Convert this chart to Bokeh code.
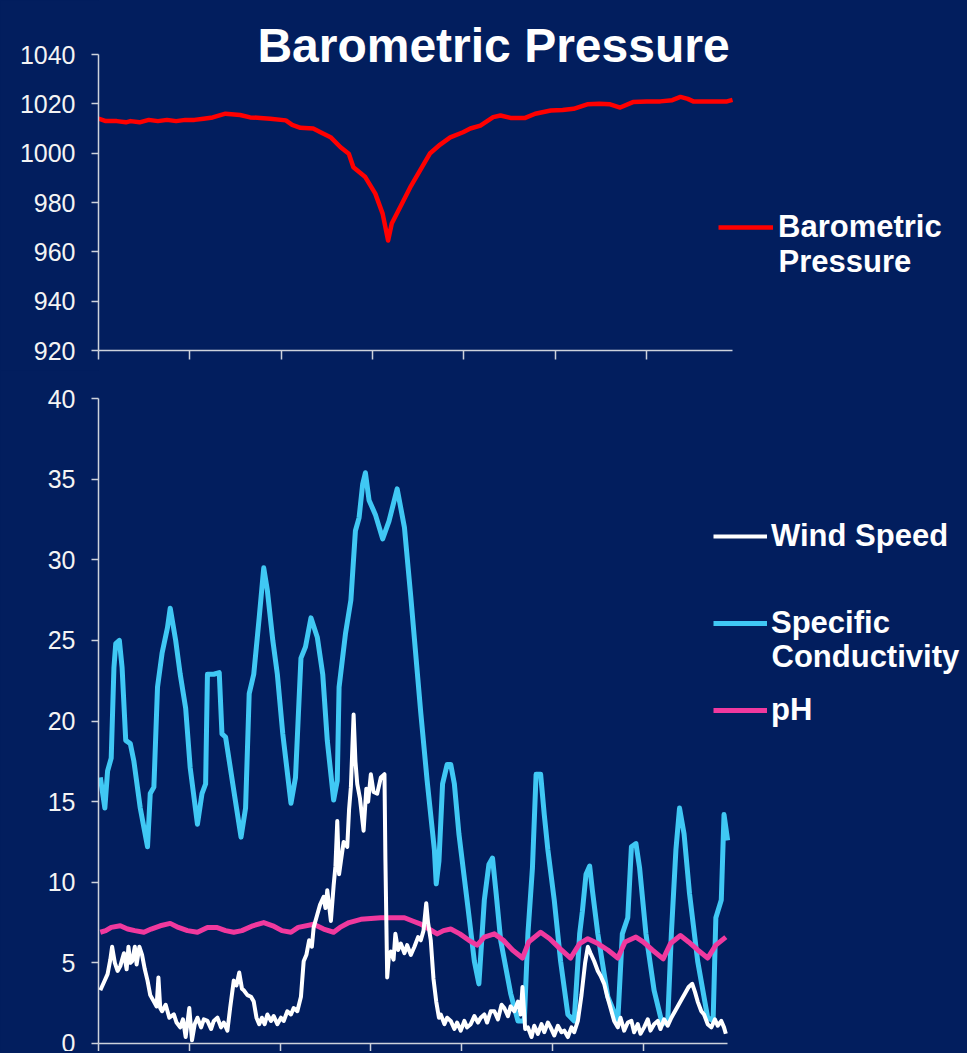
from bokeh.plotting import figure
from bokeh.models import Legend, LegendItem, Label, FixedTicker, Range1d
from bokeh.layouts import column
from bokeh.embed import file_html
from bokeh.resources import INLINE

# ---------------- data (time in days) ----------------
day_ticks = [0, 1, 2, 3, 4, 5, 6]
pressure_ticks = [920, 940, 960, 980, 1000, 1020, 1040]
lower_ticks = [0, 5, 10, 15, 20, 25, 30, 35, 40]

pressure_t = [0.00, 0.08, 0.20, 0.30, 0.35, 0.45, 0.55, 0.65, 0.75, 0.85, 0.95, 1.05, 1.15,
              1.25, 1.39, 1.55, 1.66, 1.77, 1.88, 2.05, 2.12, 2.21, 2.35, 2.43, 2.54, 2.65,
              2.74, 2.79, 2.92, 3.03, 3.11, 3.17, 3.21, 3.30, 3.41, 3.52, 3.63, 3.74, 3.85,
              3.99, 4.07, 4.18, 4.32, 4.40, 4.51, 4.67, 4.78, 4.95, 5.08, 5.20, 5.35, 5.48,
              5.60, 5.71, 5.85, 6.00, 6.15, 6.28, 6.37, 6.45, 6.51, 6.65, 6.78, 6.88, 6.94]
pressure_v = [1014, 1013, 1013, 1012.5, 1013, 1012.5, 1013.5, 1013, 1013.5, 1013, 1013.5,
              1013.5, 1014, 1014.5, 1016, 1015.5, 1014.5, 1014.3, 1014, 1013.3, 1011.5,
              1010.3, 1010, 1008.5, 1006.5, 1002.4, 999.8, 994.3, 990.3, 983.6, 975.5, 964.6,
              971.5, 978, 986, 993, 1000, 1003.5, 1006.4, 1008.5, 1010, 1011.2, 1014.6,
              1015.3, 1014.3, 1014.3, 1016, 1017.3, 1017.5, 1018, 1019.8, 1020, 1019.8, 1018.5,
              1020.7, 1021, 1021, 1021.5, 1022.8, 1022, 1021, 1021, 1021, 1021, 1021.6]

cond_t = [0.02, 0.07, 0.10, 0.14, 0.17, 0.19, 0.23, 0.26, 0.30, 0.35, 0.39, 0.46, 0.54, 0.57,
          0.61, 0.65, 0.70, 0.76, 0.79, 0.85, 0.90, 0.96, 1.01, 1.09, 1.14, 1.18, 1.20, 1.27,
          1.33, 1.36, 1.40, 1.49, 1.57, 1.62, 1.66, 1.71, 1.77, 1.82, 1.86, 1.92, 1.97, 2.03,
          2.12, 2.17, 2.23, 2.28, 2.34, 2.41, 2.47, 2.52, 2.59, 2.63, 2.65, 2.72, 2.78, 2.83,
          2.87, 2.91, 2.94, 2.98, 3.05, 3.13, 3.20, 3.29, 3.37, 3.44, 3.55, 3.62, 3.70, 3.72,
          3.75, 3.79, 3.84, 3.88, 3.92, 3.97, 4.07, 4.14, 4.19, 4.25, 4.30, 4.34, 4.38, 4.43,
          4.54, 4.62, 4.69, 4.73, 4.78, 4.82, 4.87, 4.91, 4.95, 5.02, 5.09, 5.17, 5.24, 5.30,
          5.33, 5.37, 5.41, 5.44, 5.50, 5.61, 5.72, 5.77, 5.83, 5.87, 5.92, 5.96, 6.03, 6.12,
          6.21, 6.27, 6.31, 6.36, 6.40, 6.45, 6.51, 6.60, 6.71, 6.77, 6.80, 6.86, 6.89, 6.93]
cond_v = [16.5, 14.6, 16.9, 17.7, 23.3, 24.8, 25.0, 23.3, 18.8, 18.6, 17.5, 14.6, 12.2, 15.5,
          15.9, 22.1, 24.2, 25.8, 27.0, 25.0, 22.9, 20.8, 17.1, 13.6, 15.5, 16.1, 22.9, 22.9,
          23.0, 19.2, 19.0, 15.7, 12.8, 14.6, 21.7, 22.9, 26.4, 29.5, 28.1, 25.0, 22.9, 19.2,
          14.9, 16.5, 23.9, 24.6, 26.4, 25.2, 22.9, 18.8, 15.1, 16.3, 22.1, 25.4, 27.5, 31.8,
          32.6, 34.7, 35.4, 33.7, 32.8, 31.3, 32.4, 34.4, 32.0, 27.7, 20.5, 16.3, 12.0, 9.9,
          11.3, 16.1, 17.3, 17.3, 16.1, 13.0, 8.4, 5.1, 3.7, 8.9, 11.1, 11.5, 9.3, 6.4,
          3.1, 1.4, 1.4, 6.8, 10.9, 16.7, 16.7, 14.2, 12.0, 8.9, 5.1, 1.8, 1.4, 6.8,
          8.2, 10.5, 11.0, 9.5, 6.8, 2.9, 1.4, 6.8, 7.8, 12.2, 12.4, 10.9, 6.8, 3.3,
          1.2, 1.4, 6.8, 12.0, 14.6, 13.0, 9.3, 5.1, 1.6, 1.4, 7.8, 8.9, 14.2, 12.6]

wind_t = [0.02, 0.06, 0.10, 0.13, 0.15, 0.18, 0.21, 0.24, 0.28, 0.31, 0.33, 0.35, 0.37, 0.40,
          0.42, 0.45, 0.48, 0.51, 0.54, 0.57, 0.61, 0.64, 0.66, 0.68, 0.70, 0.74, 0.78, 0.83,
          0.86, 0.90, 0.93, 0.96, 1.00, 1.03, 1.06, 1.09, 1.13, 1.16, 1.20, 1.24, 1.27, 1.31,
          1.35, 1.38, 1.42, 1.45, 1.49, 1.52, 1.55, 1.58, 1.60, 1.64, 1.68, 1.71, 1.74, 1.77,
          1.80, 1.83, 1.86, 1.90, 1.93, 1.97, 2.01, 2.04, 2.08, 2.12, 2.15, 2.19, 2.23, 2.26,
          2.29, 2.32, 2.35, 2.37, 2.41, 2.44, 2.48, 2.50, 2.52, 2.56, 2.59, 2.61, 2.63, 2.65,
          2.67, 2.70, 2.74, 2.76, 2.78, 2.81, 2.83, 2.85, 2.88, 2.92, 2.95, 2.97, 3.00, 3.03,
          3.07, 3.11, 3.15, 3.16, 3.18, 3.20, 3.22, 3.25, 3.27, 3.30, 3.33, 3.37, 3.40, 3.44,
          3.48, 3.52, 3.55, 3.58, 3.61, 3.63, 3.66, 3.69, 3.72, 3.75, 3.77, 3.81, 3.84, 3.88,
          3.92, 3.95, 3.99, 4.03, 4.06, 4.10, 4.14, 4.18, 4.21, 4.25, 4.28, 4.32, 4.36, 4.40,
          4.44, 4.47, 4.51, 4.54, 4.58, 4.62, 4.65, 4.67, 4.70, 4.73, 4.77, 4.80, 4.84, 4.88,
          4.91, 4.95, 4.98, 5.02, 5.06, 5.10, 5.13, 5.17, 5.21, 5.24, 5.28, 5.32, 5.36, 5.39,
          5.42, 5.46, 5.50, 5.53, 5.57, 5.60, 5.64, 5.68, 5.72, 5.75, 5.79, 5.83, 5.87, 5.90,
          5.94, 5.97, 6.01, 6.05, 6.08, 6.12, 6.16, 6.19, 6.23, 6.27, 6.31, 6.35, 6.39, 6.43,
          6.46, 6.50, 6.54, 6.57, 6.60, 6.64, 6.67, 6.71, 6.75, 6.79, 6.82, 6.86, 6.89, 6.91]
wind_v = [3.3, 3.8, 4.3, 5.2, 6.0, 5.0, 4.5, 4.8, 5.6, 4.6, 6.0, 5.0, 5.1, 6.0,
          4.9, 6.0, 5.5, 4.6, 3.9, 3.0, 2.6, 2.3, 4.1, 2.2, 2.0, 2.4, 1.6, 1.8,
          1.3, 1.0, 1.5, 0.4, 2.2, 0.2, 1.2, 1.6, 1.0, 1.5, 1.4, 0.9, 1.4, 1.6,
          1.0, 1.3, 0.8, 2.2, 3.9, 3.6, 4.4, 3.4, 3.3, 3.0, 2.9, 2.6, 1.6, 1.2,
          1.6, 1.2, 1.8, 1.4, 1.7, 1.2, 1.6, 1.4, 2.0, 1.8, 2.2, 2.0, 2.9, 5.1,
          5.5, 6.4, 6.0, 7.2, 8.0, 8.6, 9.1, 8.4, 9.5, 7.6, 9.8, 11.0, 13.8, 10.5,
          11.3, 12.5, 12.2, 14.5, 15.9, 20.4, 17.5, 16.1, 15.2, 13.2, 15.8, 15.0, 16.7, 15.6,
          15.5, 16.5, 16.7, 11.5, 4.1, 5.5, 5.7, 5.2, 6.8, 5.8, 6.2, 5.6, 6.1, 5.5,
          6.0, 6.6, 6.4, 7.0, 8.7, 7.5, 6.4, 4.0, 2.6, 1.6, 1.8, 1.2, 1.6, 1.4,
          0.9, 1.3, 0.8, 1.4, 1.0, 1.2, 1.7, 1.3, 1.6, 1.8, 1.3, 2.0, 2.0, 1.5,
          2.4, 2.2, 1.7, 2.3, 2.0, 2.6, 1.8, 3.5, 0.9, 1.0, 0.4, 1.1, 0.6, 1.2,
          0.7, 1.3, 1.0, 0.5, 1.1, 0.7, 0.8, 0.4, 1.0, 0.7, 1.4, 3.0, 5.0, 6.0,
          5.6, 5.1, 4.5, 4.2, 3.7, 3.0, 2.2, 1.4, 1.0, 1.6, 0.8, 1.3, 1.4, 0.7,
          1.2, 0.6, 1.0, 1.5, 0.8, 1.2, 1.4, 0.9, 1.5, 1.1, 1.6, 2.0, 2.4, 2.8,
          3.1, 3.5, 3.7, 3.2, 2.6, 2.0, 1.8, 1.2, 1.0, 1.5, 1.1, 1.4, 1.0, 0.6]

ph_t = [0.02, 0.08, 0.14, 0.24, 0.32, 0.40, 0.50, 0.58, 0.68, 0.79, 0.88, 0.98, 1.09, 1.20,
        1.30, 1.40, 1.49, 1.58, 1.70, 1.82, 1.92, 2.02, 2.12, 2.20, 2.37, 2.48, 2.59, 2.66,
        2.76, 2.89, 3.00, 3.11, 3.25, 3.37, 3.46, 3.55, 3.64, 3.73, 3.80, 3.88, 3.98, 4.08,
        4.17, 4.25, 4.36, 4.46, 4.56, 4.67, 4.74, 4.87, 4.97, 5.08, 5.20, 5.30, 5.39, 5.50,
        5.61, 5.72, 5.80, 5.92, 6.00, 6.10, 6.22, 6.30, 6.41, 6.50, 6.60, 6.71, 6.80, 6.91]
ph_v = [6.9, 7.0, 7.2, 7.3, 7.1, 7.0, 6.9, 7.1, 7.3, 7.45, 7.2, 7.0, 6.9, 7.2,
        7.2, 7.0, 6.9, 7.0, 7.3, 7.5, 7.3, 7.0, 6.9, 7.2, 7.4, 7.1, 6.9, 7.2,
        7.5, 7.7, 7.75, 7.8, 7.8, 7.8, 7.6, 7.4, 7.1, 6.8, 7.0, 7.1, 6.8, 6.4,
        6.1, 6.6, 6.8, 6.4, 5.8, 5.3, 6.3, 6.9, 6.5, 5.9, 5.3, 6.2, 6.5, 6.2,
        5.8, 5.3, 6.3, 6.6, 6.3, 5.8, 5.25, 6.2, 6.7, 6.3, 5.8, 5.3, 6.1, 6.6]

# ---------------- styling ----------------
BG = "#021E5E"
AXIS = "#CDD2DC"
FONT = "Liberation Sans"
C_RED, C_BLUE, C_WHITE, C_PINK = "#FF0000", "#40C8F4", "#FFFFFF", "#F0399E"


def style(p, yticks, xbounds, ybounds, tick_out):
    p.outline_line_color = None
    p.grid.visible = False
    for ax in (p.xaxis[0], p.yaxis[0]):
        ax.axis_line_color = AXIS
        ax.axis_line_width = 1.5
        ax.major_tick_line_color = AXIS
        ax.major_tick_line_width = 1.5
        ax.major_tick_in = 0
        ax.minor_tick_in = 0
        ax.minor_tick_out = 0
    p.xaxis.ticker = FixedTicker(ticks=day_ticks)
    p.xaxis.bounds = xbounds
    p.xaxis.major_tick_out = tick_out
    p.xaxis.major_label_overrides = {t: "" for t in day_ticks}
    p.xaxis.major_label_text_font_size = "1px"
    p.xaxis.major_label_standoff = 0
    p.yaxis.ticker = FixedTicker(ticks=yticks)
    p.yaxis.bounds = ybounds
    p.yaxis.major_tick_out = 7
    p.yaxis.major_label_standoff = 16
    p.yaxis.major_label_text_font = FONT
    p.yaxis.major_label_text_font_size = "25px"
    p.yaxis.major_label_text_color = "#F4F4F4"


def legend(renderer, label, x, y, gw, standoff):
    return Legend(items=[LegendItem(label=label, renderers=[renderer])],
                  location=(x, y), glyph_width=gw, glyph_height=40, label_height=40,
                  label_standoff=standoff, padding=0, margin=0, spacing=0,
                  label_text_font=FONT, label_text_font_size="31px",
                  label_text_font_style="bold", label_text_color="white",
                  background_fill_alpha=0, border_line_alpha=0)


def text(s, x, y, size, align="left"):
    return Label(x=x, y=y, x_units="screen", y_units="screen", text=s,
                 text_align=align, text_baseline="alphabetic", text_font=FONT,
                 text_font_size=size, text_font_style="bold", text_color="white")


# ---------------- top chart ----------------
top = figure(frame_width=867, frame_height=350, min_border_left=98, min_border_right=0,
             min_border_top=0, min_border_bottom=20,
             x_range=Range1d(0, 9.49), y_range=Range1d(920, 1061.9),
             output_backend="svg", toolbar_location=None,
             background_fill_color=BG, border_fill_color=BG)
style(top, pressure_ticks, (0, 6.94), (920, 1040), 9)
r_p = top.line(pressure_t, pressure_v, line_color=C_RED, line_width=4.5, line_join="round")
top.add_layout(legend(r_p, "Barometric", 620, 103, 55, 5))
top.add_layout(text("Pressure", 680, 89, "31px"))
top.add_layout(text("Barometric Pressure", 395, 305, "48px", align="center"))

# ---------------- bottom chart ----------------
bot = figure(frame_width=867, frame_height=673, min_border_left=98, min_border_right=0,
             min_border_top=0, min_border_bottom=8,
             x_range=Range1d(0, 9.55), y_range=Range1d(0, 41.74),
             output_backend="svg", toolbar_location=None,
             background_fill_color=BG, border_fill_color=BG)
style(bot, lower_ticks, (0, 6.93), (0, 40), 8)
r_c = bot.line(cond_t, cond_v, line_color=C_BLUE, line_width=5, line_join="round")
r_ph = bot.line(ph_t, ph_v, line_color=C_PINK, line_width=5, line_join="round")
r_w = bot.line(wind_t, wind_v, line_color=C_WHITE, line_width=4, line_join="round")
bot.add_layout(legend(r_w, "Wind Speed", 615, 487, 54, 4))
bot.add_layout(legend(r_c, "Specific", 615, 400, 54, 4))
bot.add_layout(text("Conductivity", 673, 387, "31px"))
bot.add_layout(legend(r_ph, "pH", 615, 313, 54, 4))

layout = column(top, bot, spacing=0)

html = file_html(layout, INLINE, title="Barometric Pressure")
html = html.replace("</head>", "<style>html,body{background:#021E5E;}</style></head>", 1)
open("out.html", "w").write(html)
